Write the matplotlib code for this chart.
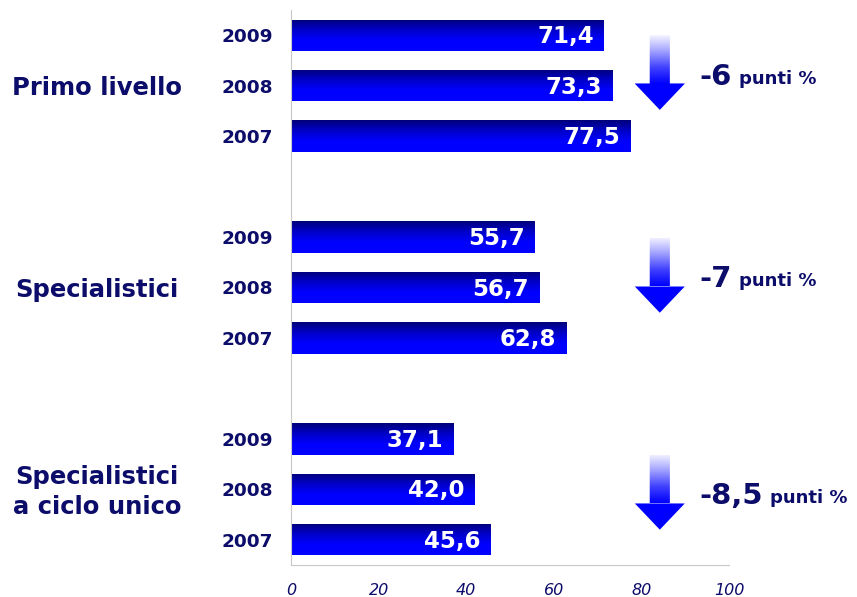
import numpy as np
import matplotlib
matplotlib.use('Agg')
import matplotlib.pyplot as plt
from matplotlib.colors import LinearSegmentedColormap
from matplotlib.patches import Polygon

# dati
groups = ['Primo livello', 'Specialistici', 'Specialistici\na ciclo unico']
years = ['2009', '2008', '2007']
primo = [71.4, 73.3, 77.5]
spec = [55.7, 56.7, 62.8]
ciclo = [37.1, 42.0, 45.6]
deltas = ['-6', '-7', '-8,5']
xticks = [0, 20, 40, 60, 80, 100]

navy = '#0c0c6a'
bar_cmap = LinearSegmentedColormap.from_list('bar', ['#00007a', '#0000c8', '#0000ff', '#0000ff'])
arr_cmap = LinearSegmentedColormap.from_list('arr', ['#f4f4ff', '#a0a0ff', '#4040ff', '#0000ff'])

values = primo + spec + ciclo
pos = [0, 1, 2, 4, 5, 6, 8, 9, 10]
h = 0.62

fig = plt.figure(figsize=(8.57, 5.97), dpi=100)
ax = fig.add_axes([291 / 857, 1 - 565 / 597, (729 - 291) / 857, (565 - 10) / 597])

bars = ax.barh(pos, values, height=h, color='#0000c0', edgecolor='none')
grad = np.linspace(0, 1, 100).reshape(-1, 1)
for b, v, p in zip(bars, values, pos):
    im = ax.imshow(grad, cmap=bar_cmap, aspect='auto', origin='upper',
                   extent=(0, v, p + h / 2, p - h / 2), zorder=2)
    im.set_clip_path(b)
    ax.text(v - 2.3, p + 0.03, f'{v:.1f}'.replace('.', ','), color='white',
            fontsize=16.5, fontweight='bold', ha='right', va='center', zorder=3)

# frecce e differenze
starts = [0.0, 4.02, 8.32]
ax_c = 84.2
for g, (s, d) in enumerate(zip(starts, deltas)):
    tip = s + 1.48
    hs = tip - 0.52
    sw, hw = 2.3, 5.7
    verts = [(ax_c - sw, s), (ax_c + sw, s), (ax_c + sw, hs), (ax_c + hw, hs),
             (ax_c, tip), (ax_c - hw, hs), (ax_c - sw, hs)]
    poly = Polygon(verts, closed=True, facecolor='none', edgecolor='none')
    ax.add_patch(poly)
    gi = np.linspace(0, 1, 100).reshape(-1, 1)
    im = ax.imshow(gi, cmap=arr_cmap, aspect='auto', origin='upper',
                   extent=(ax_c - hw, ax_c + hw, hs, s), zorder=2)
    im.set_clip_path(poly)
    poly2 = Polygon(verts[2:], closed=True, facecolor='#0000ff', edgecolor='none', zorder=2.5)
    ax.add_patch(poly2)
    for p in (poly, poly2):
        p.set_clip_on(False)
    t1 = ax.text(93.3, s + 0.82, d, color=navy, fontsize=21, fontweight='bold',
                 ha='left', va='center', clip_on=False)
    ax.annotate('punti %', xy=(1, 0), xycoords=t1, xytext=(5, 5.0),
                textcoords='offset points', color=navy, fontsize=13,
                fontweight='bold', ha='left', va='baseline')

# etichette dei gruppi
for g, name in enumerate(groups):
    ax.text(-44.3, pos[g * 3 + 1] + 0.05, name, color=navy, fontsize=17.5,
            fontweight='bold', ha='center', va='center', multialignment='center',
            linespacing=1.3, clip_on=False)

ax.set_yticks(pos, labels=years * 3)
ax.set_xticks(xticks, labels=[str(x) for x in xticks])
ax.tick_params(axis='y', length=0, pad=13, labelsize=13.3, labelcolor=navy)
ax.tick_params(axis='x', length=0, pad=13, labelsize=11.5, labelcolor=navy)
for lab in ax.get_yticklabels():
    lab.set_fontweight('bold')
for lab in ax.get_xticklabels():
    lab.set_fontstyle('italic')

ax.set_xlim(0, 100)
ax.set_ylim(10.5, -0.5)
for sp in ['top', 'right']:
    ax.spines[sp].set_visible(False)
ax.spines['left'].set_color('#c8c8c8')
ax.spines['bottom'].set_color('#c8c8c8')

fig.savefig('out.png', dpi=100)
